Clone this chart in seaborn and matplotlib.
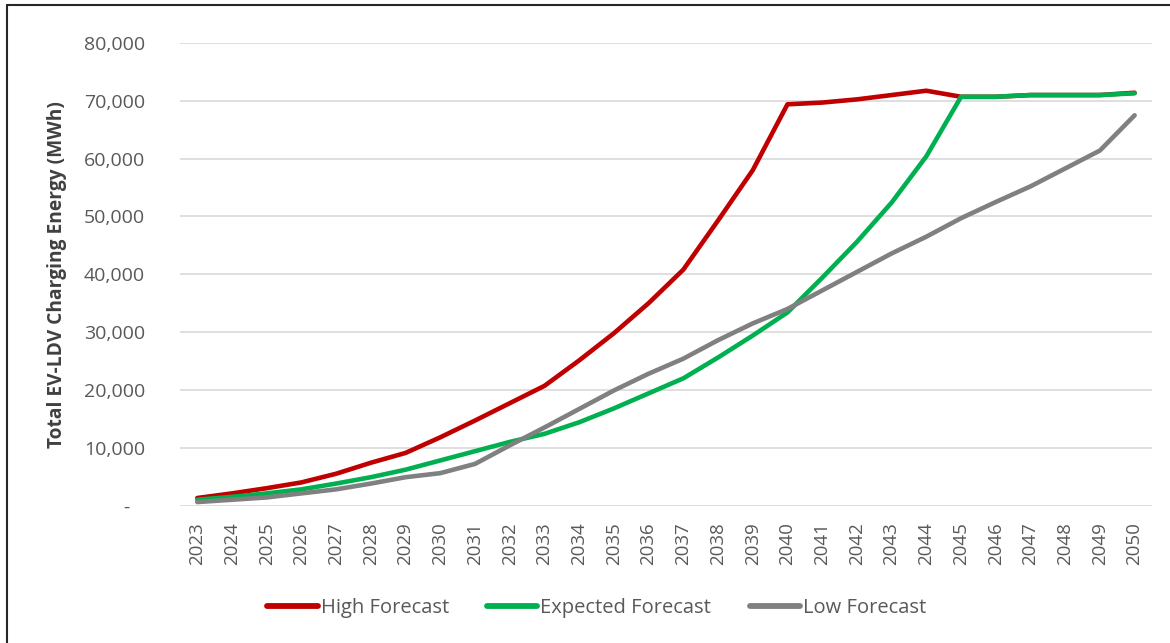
import matplotlib
matplotlib.use('Agg')
import matplotlib.pyplot as plt
import matplotlib.ticker as mticker
from matplotlib.lines import Line2D
import seaborn as sns
import pandas as pd

years = list(range(2023, 2051))

high_forecast = [1300, 2100, 3000, 4000, 5500, 7400, 9100, 11800, 14700, 17700,
                 20700, 25100, 29800, 35000, 40800, 49300, 58000, 69400, 69700, 70250,
                 71000, 71750, 70700, 70700, 71000, 71000, 71000, 71400]
expected_forecast = [1000, 1500, 2100, 2800, 3800, 4900, 6200, 7800, 9400, 11000,
                     12400, 14400, 16800, 19400, 22000, 25600, 29400, 33400, 39400, 45600,
                     52400, 60400, 70700, 70700, 71000, 71000, 71000, 71300]
low_forecast = [600, 1000, 1400, 2100, 2800, 3800, 4900, 5600, 7200, 10400,
                13500, 16700, 19900, 22800, 25400, 28600, 31500, 34000, 37200, 40400,
                43600, 46500, 49700, 52500, 55200, 58300, 61400, 67500]

series_names = ['High Forecast', 'Expected Forecast', 'Low Forecast']
series_colors = {'High Forecast': '#C00000', 'Expected Forecast': '#00B050', 'Low Forecast': '#808080'}

df = pd.DataFrame({'Year': [str(y) for y in years],
                   'High Forecast': high_forecast,
                   'Expected Forecast': expected_forecast,
                   'Low Forecast': low_forecast})
long_df = df.melt(id_vars='Year', var_name='Series', value_name='Energy')
long_df['pos'] = long_df['Year'].astype(int) - years[0]

sns.set_style('white')
plt.rcParams['font.family'] = ['Open Sans', 'DejaVu Sans']

fig = plt.figure(figsize=(11.7, 6.43), dpi=100)
ax = fig.add_axes([0.1538, 0.2138, 0.8308, 0.7193])

sns.lineplot(data=long_df, x='pos', y='Energy', hue='Series', hue_order=series_names,
             palette=series_colors, linewidth=3.3, ax=ax, legend=False,
             solid_capstyle='round', solid_joinstyle='round')

ax.set_xlim(-0.5, len(years) - 0.5)
ax.set_ylim(0, 80000)
ax.set_xticks(range(len(years)))
ax.set_xticklabels([str(y) for y in years], rotation=90, fontsize=13.5, color='#595959')
ax.set_yticks(range(0, 80001, 10000))
ax.yaxis.set_major_formatter(mticker.FuncFormatter(
    lambda v, p: '-   ' if v == 0 else f'{int(v):,}'))
ax.tick_params(axis='y', labelsize=14, colors='#595959', length=0, pad=25)
ax.tick_params(axis='x', length=0, pad=12)
ax.yaxis.grid(True, color='#D9D9D9', linewidth=1.2)
ax.xaxis.grid(False)
for s in ax.spines.values():
    s.set_visible(False)

ax.set_xlabel('')
ax.set_ylabel('Total EV-LDV Charging Energy (MWh)', fontsize=13.8, fontweight='bold',
              color='#404040', labelpad=12)

handles = [Line2D([0], [0], color=series_colors[n], linewidth=4.2) for n in series_names]
fig.legend(handles, series_names, loc='center', bbox_to_anchor=(0.51, 0.055), ncol=3,
           frameon=False, fontsize=14.5, handlelength=2.5, handletextpad=0.15,
           columnspacing=1.9, labelcolor='#595959')

# outer chart frame (left and top edges visible)
fig.add_artist(Line2D([7 / 1170, 7 / 1170], [0, 1 - 5 / 643], transform=fig.transFigure,
                      color='#262626', linewidth=1.5))
fig.add_artist(Line2D([7 / 1170, 1], [1 - 5 / 643, 1 - 5 / 643], transform=fig.transFigure,
                      color='#262626', linewidth=1.5))

fig.savefig('out.png', dpi=100)
plt.close(fig)
